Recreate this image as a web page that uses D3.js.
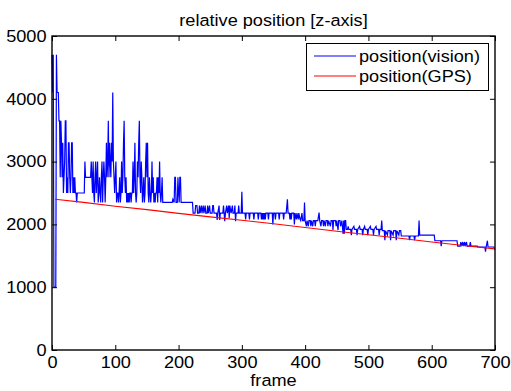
<!DOCTYPE html>
<html lang="en">
  <head>
    <meta charset="utf-8">
    <title>relative position [z-axis]</title>
    <script src="https://cdn.jsdelivr.net/npm/d3@7/dist/d3.min.js"></script>
    <style>
      body { margin: 0; background: #fff; }
      text { font-family: "Liberation Sans", Arial, sans-serif; font-size: 16.5px; fill: #000; }
    </style>
  </head>
  <body>
    <svg id="svg"></svg>
    <script type="text/javascript">

        // -- data
        var xTicks = [0, 100, 200, 300, 400, 500, 600, 700];
        var yTicks = [0, 1000, 2000, 3000, 4000, 5000];
        var seriesNames = ["position(vision)", "position(GPS)"];

        // [frame, z] for the vision estimate
        var vision = [
            [0,4700],[1,4100],[2,4700],[3,1000],[6,1000],[7,4700],[8,4100],[10,4100],
            [11,3650],[12,3650],[13,2750],[14,3650],[15,3300],[16,2750],[17,3300],[18,2500],
            [19,2750],[20,3000],[21,3650],[22,3650],[23,2500],[24,2750],[25,2500],[26,3300],
            [27,3300],[28,2750],[29,2500],[30,2750],[31,3300],[32,3300],[33,2500],[34,2750],
            [35,2500],[36,2750],[37,2500],[38,2500],[39,2350],[40,2500],[51,2500],[52,3000],
            [53,2750],[61,2750],[62,3000],[63,2750],[64,2500],[65,3000],[66,2500],[67,2350],
            [68,2750],[69,3000],[70,2500],[71,2750],[72,3000],[73,2350],[74,2500],[75,2750],
            [76,2500],[77,2350],[78,2750],[79,3000],[80,2350],[81,2750],[82,3000],[83,2750],
            [84,2350],[85,2750],[86,3300],[87,2750],[88,3000],[89,3650],[90,2750],[91,3300],
            [92,3000],[93,2750],[94,3300],[95,3000],[96,4100],[97,3000],[98,2750],[99,2500],
            [100,2750],[101,3000],[102,2350],[103,2500],[104,2500],[105,2350],[106,2500],[107,2750],
            [108,2350],[109,2500],[110,3000],[111,2500],[112,2750],[113,3300],[114,3650],[115,2750],
            [116,2500],[117,2750],[118,2350],[119,2500],[120,2350],[121,2500],[122,2350],[123,2500],
            [124,2500],[125,2350],[126,2500],[127,2500],[128,3000],[129,2500],[130,2750],[131,3300],
            [132,2500],[133,2350],[134,2500],[135,3000],[136,2750],[137,3300],[138,3650],[139,2750],
            [140,2500],[141,3000],[142,2750],[143,2350],[144,2500],[145,2750],[146,2350],[147,2500],
            [148,3000],[149,3300],[150,2750],[151,3300],[152,2500],[153,2350],[154,2750],[155,2500],
            [156,2350],[157,2500],[158,3000],[159,2500],[160,2750],[161,2350],[162,2500],[163,2350],
            [164,2500],[165,2500],[166,2750],[167,2350],[168,2750],[169,2500],[170,3000],[171,2500],
            [172,2350],[173,2500],[174,2750],[175,2350],[190,2350],[191,2400],[193,2350],[194,2750],
            [195,2750],[196,2350],[198,2350],[199,2750],[200,2500],[201,2350],[202,2750],[203,2750],
            [204,2350],[222,2350],[223,2180],[226,2180],[227,2300],[229,2300],[230,2180],[232,2180],
            [233,2300],[234,2180],[236,2300],[237,2180],[239,2300],[240,2180],[242,2300],[243,2180],
            [245,2180],[246,2300],[247,2180],[249,2300],[250,2180],[253,2180],[254,2300],[255,2300],
            [256,2180],[260,2180],[261,2070],[262,2180],[264,2300],[265,2070],[266,2180],[270,2180],
            [271,2300],[272,2180],[273,2050],[274,2180],[276,2300],[277,2180],[279,2300],[280,2100],
            [281,2300],[283,2180],[285,2300],[286,2180],[288,2180],[289,2300],[290,2050],[291,2180],
            [294,2180],[295,2300],[296,2180],[299,2180],[300,2520],[301,2180],[305,2180],[306,2080],
            [307,2180],[311,2180],[312,2080],[313,2180],[318,2180],[319,2080],[320,2180],[325,2180],
            [326,2080],[327,2180],[330,2180],[331,2080],[332,2180],[333,2080],[334,2180],[335,2080],
            [336,2180],[337,2080],[338,2180],[341,2180],[342,2080],[343,2180],[348,2180],[349,2000],
            [350,2180],[352,2180],[353,2080],[354,2180],[358,2180],[359,2080],[360,2180],[365,2180],
            [366,2080],[367,2180],[370,2180],[372,2400],[373,2180],[375,2180],[376,2080],[377,2180],
            [378,2080],[379,2180],[382,2180],[383,2000],[384,2180],[386,2080],[387,2180],[389,2080],
            [390,2180],[392,2080],[393,2060],[395,2180],[396,2060],[398,2060],[399,2350],[400,2060],
            [402,1970],[403,2060],[405,1970],[406,2060],[408,2060],[409,1970],[410,2060],[412,1970],
            [413,2060],[415,2060],[416,1970],[417,2060],[420,2060],[422,2190],[423,2060],[425,1970],
            [426,2060],[428,2060],[429,1970],[430,2060],[432,1970],[433,2060],[435,2060],[436,1970],
            [437,2060],[440,1970],[441,2060],[443,2060],[444,1910],[445,2060],[448,2060],[449,1970],
            [450,2060],[452,1910],[453,2060],[455,2060],[456,1970],[458,2060],[460,1850],[461,2060],
            [462,1850],[463,2060],[464,2060],[465,1920],[467,1920],[468,1970],[469,1920],[472,1920],
            [473,1830],[474,1920],[477,1970],[478,1920],[481,1920],[482,1830],[483,1920],[486,1970],
            [487,1920],[490,1920],[491,1830],[492,1920],[494,1970],[495,1920],[498,1920],[499,1830],
            [500,1920],[503,1970],[504,1920],[507,1920],[508,1830],[509,1920],[512,1970],[513,1920],
            [516,1920],[517,1830],[518,1920],[520,1920],[521,2060],[522,1900],[525,1900],[526,1750],
            [527,1900],[530,1830],[531,1900],[534,1900],[535,1750],[536,1900],[539,1830],[540,1900],
            [543,1900],[544,1750],[545,1900],[548,1830],[549,1900],[551,1900],[552,1815],[564,1815],
            [565,1750],[566,1815],[572,1815],[573,1750],[574,1815],[579,1815],[580,2060],[581,1830],
            [604,1830],[605,1740],[614,1740],[615,1655],[616,1740],[640,1740],[641,1655],[645,1655],
            [646,1720],[647,1655],[649,1720],[650,1655],[652,1720],[653,1655],[655,1720],[656,1655],
            [660,1655],[661,1720],[662,1655],[672,1655],[673,1640],[684,1640],[685,1565],[686,1640],
            [688,1740],[689,1640],[698,1640],[700,1600]
        ];

        // [frame, z] for the GPS reference
        var gps = [
            [5,2400],[50,2350],[100,2290],[150,2235],[200,2175],[250,2120],[300,2065],
            [350,2010],[400,1950],[450,1890],[500,1835],[550,1780],[600,1720],[650,1665],[700,1610]
        ];

        // -- layout (note: "top" is taken by window.top, so prefix these)
        var W = 511, H = 391;
        var plotLeft = 52, plotRight = 495, plotTop = 36, plotBottom = 350;

        var svg = d3.select("svg#svg")
            .attr("width", W)
            .attr("height", H);

        var x = d3.scaleLinear().domain([0, 700]).range([plotLeft, plotRight]);
        var y = d3.scaleLinear().domain([0, 5000]).range([plotBottom, plotTop]);

        function draw_axes() {
            // bottom / left with labels, ticks pointing inward
            svg.append("g")
                .attr("transform", "translate(0," + plotBottom + ")")
                .call(d3.axisBottom(x).tickValues(xTicks).tickFormat(d3.format("d"))
                    .tickSizeInner(-5).tickSizeOuter(0).tickPadding(6))
                .call(g => g.select(".domain").remove());
            svg.append("g")
                .attr("transform", "translate(" + plotLeft + ",0)")
                .call(d3.axisLeft(y).tickValues(yTicks).tickFormat(d3.format("d"))
                    .tickSizeInner(-5).tickSizeOuter(0).tickPadding(5))
                .call(g => g.select(".domain").remove());
            // top / right, ticks only
            svg.append("g")
                .attr("transform", "translate(0," + plotTop + ")")
                .call(d3.axisTop(x).tickValues(xTicks).tickSizeInner(-5).tickSizeOuter(0).tickFormat(""))
                .call(g => g.select(".domain").remove());
            svg.append("g")
                .attr("transform", "translate(" + plotRight + ",0)")
                .call(d3.axisRight(y).tickValues(yTicks).tickSizeInner(-5).tickSizeOuter(0).tickFormat(""))
                .call(g => g.select(".domain").remove());

            svg.selectAll(".tick line").attr("stroke", "#000");
            svg.selectAll(".tick text")
                .attr("transform", "scale(1.1,1)")
                .style("font-family", "'Liberation Sans', Arial, sans-serif")
                .style("font-size", "16.5px");
        }

        function draw_lines() {
            var line = d3.line().x(d => x(d[0])).y(d => y(d[1]));
            svg.append("path")
                .datum(vision)
                .attr("d", line)
                .attr("fill", "none")
                .attr("stroke", "#0000ff")
                .attr("stroke-width", 1.2);
            svg.append("path")
                .datum(gps)
                .attr("d", line)
                .attr("fill", "none")
                .attr("stroke", "#ff0000")
                .attr("stroke-width", 1.1);
        }

        function draw_frame() {
            svg.append("rect")
                .attr("x", plotLeft).attr("y", plotTop)
                .attr("width", plotRight - plotLeft).attr("height", plotBottom - plotTop)
                .attr("fill", "none")
                .attr("stroke", "#000")
                .attr("stroke-width", 1.4);
        }

        function draw_legend() {
            var colors = ["#0000ff", "#ff0000"];
            var lg = svg.append("g");
            lg.append("rect")
                .attr("x", 306.5).attr("y", 43.5)
                .attr("width", 182).attr("height", 47)
                .attr("fill", "#fff")
                .attr("stroke", "#000")
                .attr("stroke-width", 1);
            seriesNames.forEach(function(name, i) {
                var yy = 56 + i * 20;
                lg.append("line")
                    .attr("x1", 314).attr("x2", 356)
                    .attr("y1", yy).attr("y2", yy)
                    .attr("stroke", colors[i])
                    .attr("stroke-width", 1.1);
                lg.append("text")
                    .attr("transform", "translate(359," + yy + ") scale(1.1,1)")
                    .attr("dy", "0.35em")
                    .text(name);
            });
        }

        function draw_labels() {
            svg.append("text")
                .attr("transform", "translate(" + ((plotLeft + plotRight) / 2) + ",26) scale(1.1,1)")
                .style("text-anchor", "middle")
                .text("relative position [z-axis]");
            svg.append("text")
                .attr("transform", "translate(" + ((plotLeft + plotRight) / 2) + ",386) scale(1.1,1)")
                .style("text-anchor", "middle")
                .text("frame");
        }

        draw_lines();
        draw_axes();
        draw_frame();
        draw_legend();
        draw_labels();
    </script>
  </body>
</html>
